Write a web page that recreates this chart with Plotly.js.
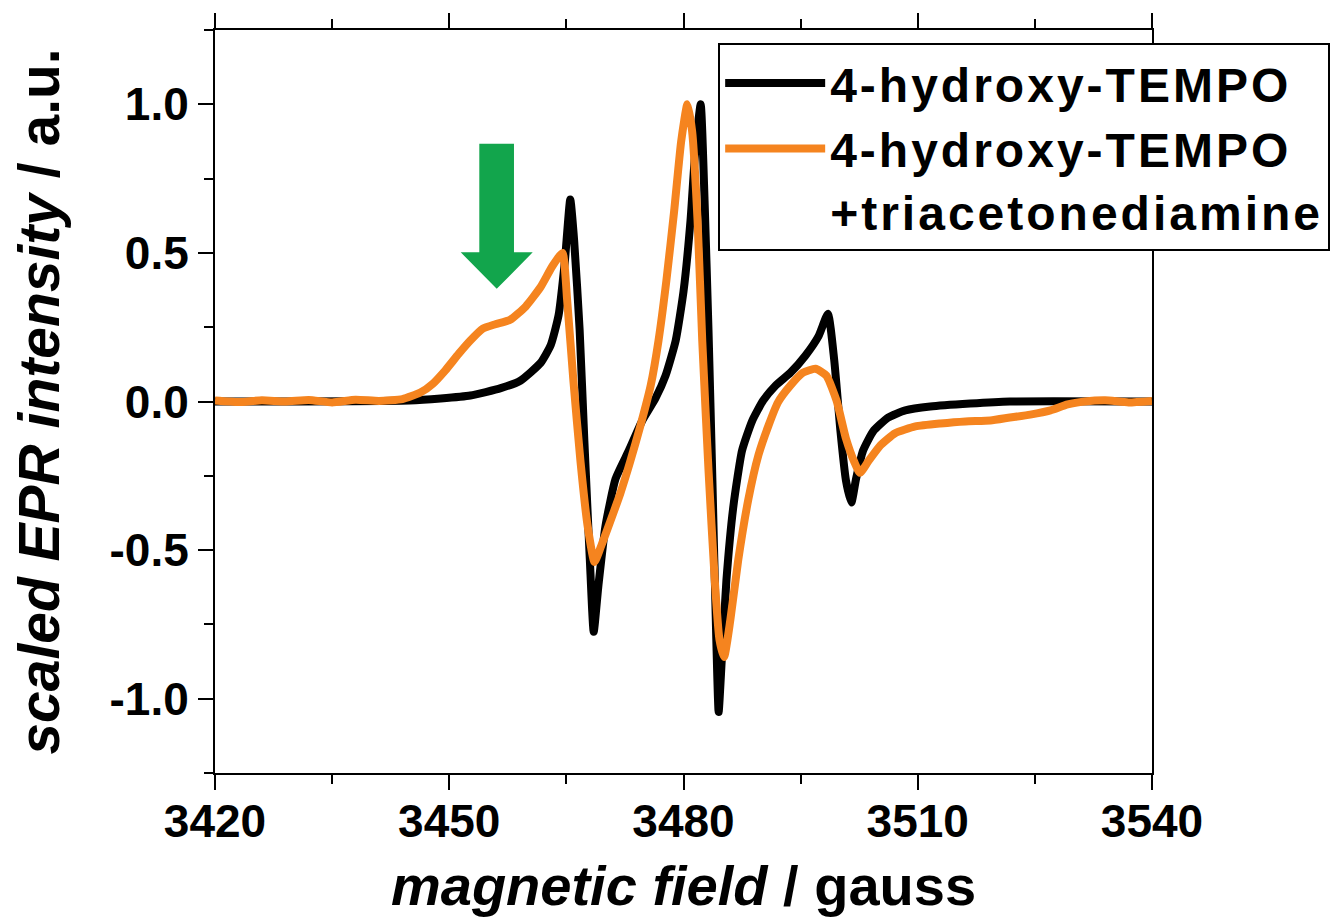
<!DOCTYPE html>
<html>
<head>
<meta charset="utf-8">
<script src="https://cdn.plot.ly/plotly-3.0.1.min.js"></script>
<style>
html,body{margin:0;padding:0;background:#fff;}
.legendtext{letter-spacing:3px;}
</style>
</head>
<body>
<div id="chart" style="width:1332px;height:920px;"></div>
<script>
// ---- data ----
const seriesNames = ['4-hydroxy-TEMPO', '4-hydroxy-TEMPO<br>+triacetonediamine'];

const fieldTempo = [3420, 3431, 3444.9, 3448.9, 3452.7, 3456.6, 3459.1, 3461.7, 3463.0, 3464.0,
  3464.8, 3465.5, 3466.0, 3466.7, 3467.3, 3468.0, 3468.5, 3469.1, 3470.0, 3471.3,
  3473.0, 3474.7, 3476.4, 3477.7, 3479.0, 3480.0, 3480.9, 3481.5, 3482.2, 3482.7,
  3483.2, 3483.7, 3484.2, 3484.5, 3484.9, 3485.5, 3486.4, 3487.5, 3488.8, 3490.2,
  3491.8, 3493.7, 3495.6, 3497.3, 3498.5, 3499.3, 3500.1, 3500.8, 3501.5, 3502.1,
  3503.0, 3504.3, 3506.2, 3508.4, 3511.6, 3516.7, 3521.8, 3540];
const intensityTempo = [0, 0, 0.003, 0.01, 0.02, 0.045, 0.07, 0.13, 0.19, 0.29,
  0.47, 0.68, 0.54, 0.24, -0.13, -0.53, -0.775, -0.62, -0.42, -0.26,
  -0.165, -0.065, 0.01, 0.087, 0.205, 0.37, 0.61, 0.84, 1.0, 0.675,
  0.24, -0.265, -0.8, -1.045, -0.87, -0.6, -0.35, -0.165, -0.065, 0.003,
  0.054, 0.097, 0.154, 0.22, 0.295, 0.14, -0.1, -0.265, -0.34, -0.26,
  -0.165, -0.1, -0.054, -0.03, -0.017, -0.007, 0, 0];

const fieldMix = [3420, 3423, 3426, 3429, 3432, 3435, 3438, 3441, 3444, 3446.3,
  3447.9, 3449.5, 3451.2, 3452.7, 3454.3, 3455.9, 3457.8, 3459.8, 3461.7, 3463.2,
  3464.5, 3465.1, 3465.9, 3466.8, 3467.7, 3468.6, 3469.4, 3470.6, 3471.9, 3473.2,
  3474.5, 3475.8, 3476.8, 3477.8, 3478.8, 3479.7, 3480.5, 3481.1, 3481.8, 3482.4,
  3483.2, 3484.0, 3484.6, 3485.2, 3486.0, 3487.0, 3488.3, 3489.6, 3490.9, 3492.1,
  3493.7, 3495.3, 3496.9, 3498.3, 3499.6, 3500.8, 3501.9, 3502.6, 3503.7, 3505.2,
  3507.1, 3509.7, 3512.9, 3516.1, 3519.3, 3521.8, 3524.4, 3527.0, 3529.2, 3531.4,
  3534, 3537, 3540];
const intensityMix = [0.003, -0.002, 0.004, 0.0, 0.005, -0.003, 0.006, 0.002, 0.008, 0.03,
  0.06, 0.105, 0.16, 0.205, 0.245, 0.26, 0.275, 0.32, 0.385, 0.455,
  0.5, 0.34, 0.07, -0.2, -0.415, -0.54, -0.49, -0.405, -0.31, -0.2,
  -0.08, 0.054, 0.205, 0.405, 0.64, 0.875, 1.0, 0.91, 0.61, 0.205,
  -0.23, -0.6, -0.8, -0.86, -0.735, -0.535, -0.33, -0.18, -0.08, -0.003,
  0.054, 0.097, 0.11, 0.087, 0.003, -0.124, -0.205, -0.24, -0.2, -0.148,
  -0.107, -0.084, -0.074, -0.067, -0.064, -0.054, -0.044, -0.03, -0.01, 0,
  0.004, -0.003, 0.002];

const xTickVals = [3420, 3450, 3480, 3510, 3540];
const xTickText = ['3420', '3450', '3480', '3510', '3540'];
const yTickVals = [-1.0, -0.5, 0.0, 0.5, 1.0];
const yTickText = ['-1.0', '-0.5', '0.0', '0.5', '1.0'];

// ---- styling ----
const FONT = 'Liberation Sans, Arial, Helvetica, sans-serif';
const BLACK = '#000000';
const ORANGE = '#f5841f';
const GREEN = '#12a54c';

const traces = [
  {x: fieldTempo, y: intensityTempo, name: seriesNames[0], type: 'scatter', mode: 'lines',
   line: {color: BLACK, width: 8, shape: 'spline', smoothing: 0.5}},
  {x: fieldMix, y: intensityMix, name: seriesNames[1], type: 'scatter', mode: 'lines',
   line: {color: ORANGE, width: 8, shape: 'spline', smoothing: 0.5}}
];

const layout = {
  width: 1332, height: 920,
  margin: {l: 215, r: 180, t: 30, b: 147, autoexpand: false},
  paper_bgcolor: '#ffffff', plot_bgcolor: '#ffffff',
  font: {family: FONT, size: 46, color: '#000', weight: 'bold'},
  showlegend: true,
  legend: {
    x: 0.537, y: 0.982, xanchor: 'left', yanchor: 'top',
    bgcolor: '#ffffff', bordercolor: '#000', borderwidth: 2,
    font: {family: FONT, size: 48, color: '#000', weight: 'bold'},
    itemwidth: 100, valign: 'top', tracegroupgap: 0
  },
  xaxis: {
    range: [3420, 3540], tickvals: xTickVals, ticktext: xTickText,
    ticks: 'outside', ticklen: 15, tickwidth: 2, tickcolor: '#000',
    minor: {dtick: 15, tick0: 3420, ticks: 'outside', ticklen: 9, tickwidth: 2, tickcolor: '#000', showgrid: false},
    showline: true, linewidth: 2, linecolor: '#000', mirror: 'ticks',
    showgrid: false, zeroline: false, ticklabelstandoff: -8,
    tickfont: {family: FONT, size: 46, weight: 'bold'},
    title: {text: '<i>magnetic field</i> / gauss', font: {family: FONT, size: 56, weight: 'bold'}, standoff: 20}
  },
  yaxis: {
    range: [-1.25, 1.25], tickvals: yTickVals, ticktext: yTickText,
    ticks: 'outside', ticklen: 15, tickwidth: 2, tickcolor: '#000',
    minor: {dtick: 0.25, tick0: 0, ticks: 'outside', ticklen: 9, tickwidth: 2, tickcolor: '#000', showgrid: false},
    showline: true, linewidth: 2, linecolor: '#000', mirror: true,
    showgrid: false, zeroline: false,
    tickfont: {family: FONT, size: 46, weight: 'bold'},
    title: {text: '<i>scaled EPR intensity</i> / a.u.', font: {family: FONT, size: 57, weight: 'bold'}, standoff: 32}
  },
  shapes: [
    {type: 'path', xref: 'x', yref: 'y', layer: 'above',
     path: 'M 3453.85,0.867 L 3458.29,0.867 L 3458.29,0.502 L 3460.69,0.502 L 3456.08,0.379 L 3451.47,0.502 L 3453.85,0.502 Z',
     fillcolor: GREEN, line: {width: 0}}
  ]
};

Plotly.newPlot('chart', traces, layout, {displayModeBar: false, staticPlot: true});
</script>
</body>
</html>
